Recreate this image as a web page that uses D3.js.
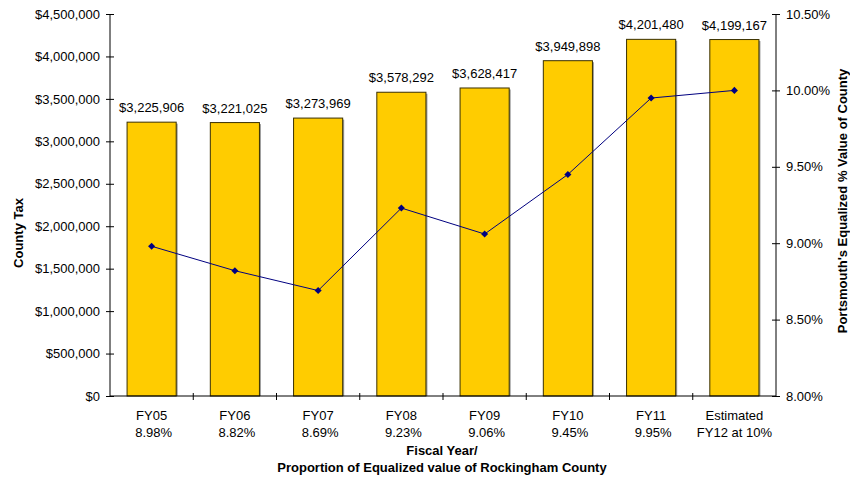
<!DOCTYPE html>
<html>
<head>
<meta charset="utf-8">
<script src="https://cdn.jsdelivr.net/npm/d3@7"></script>
<style>
  body { margin: 0; background: #fff; }
  svg { display: block; font-family: "Liberation Sans", Arial, sans-serif; }
</style>
</head>
<body>
<svg id="chart" width="850" height="479"></svg>
<script>
// County tax paid per fiscal year and Portsmouth's share of county equalized value
const years = ["FY05", "FY06", "FY07", "FY08", "FY09", "FY10", "FY11", "Estimated"];
const subLabels = ["8.98%", "8.82%", "8.69%", "9.23%", "9.06%", "9.45%", "9.95%", "FY12 at 10%"];
const countyTax = [3225906, 3221025, 3273969, 3578292, 3628417, 3949898, 4201480, 4199167];
const sharePct = [8.98, 8.82, 8.69, 9.23, 9.06, 9.45, 9.95, 10.00];
const taxTicks = [0, 500000, 1000000, 1500000, 2000000, 2500000, 3000000, 3500000, 4000000, 4500000];
const pctTicks = [8.0, 8.5, 9.0, 9.5, 10.0, 10.5];

const svg = d3.select("#chart");
const plotL = 110, plotR = 776, plotT = 14, plotB = 396;
const fs = 13;

const x = d3.scaleBand().domain(d3.range(years.length)).range([plotL, plotR]).paddingInner(0.41).paddingOuter(0.205);
const xTick = d3.scaleLinear().domain([0, years.length]).range([plotL, plotR]);
const yTax = d3.scaleLinear().domain([0, 4500000]).range([plotB, plotT]);
const yPct = d3.scaleLinear().domain([8.0, 10.5]).range([plotB, plotT]);

const money = d3.format("$,.0f");

// bars with a thin grey shadow on the right edge
const bars = svg.append("g");
bars.selectAll("rect.shadow").data(countyTax).join("rect")
  .attr("class", "shadow")
  .attr("x", (d, i) => x(i) + 1.5)
  .attr("y", d => yTax(d) + 1.5)
  .attr("width", x.bandwidth())
  .attr("height", d => plotB - yTax(d) - 1.5)
  .attr("fill", "#9a9a9a");
bars.selectAll("rect.bar").data(countyTax).join("rect")
  .attr("class", "bar")
  .attr("x", (d, i) => x(i))
  .attr("y", d => yTax(d))
  .attr("width", x.bandwidth())
  .attr("height", d => plotB - yTax(d))
  .attr("fill", "#FFCC00")
  .attr("stroke", "#3a3000")
  .attr("stroke-width", 1);

// value labels
svg.append("g").selectAll("text").data(countyTax).join("text")
  .attr("x", (d, i) => x(i) + x.bandwidth() / 2)
  .attr("y", d => yTax(d) - 10)
  .attr("text-anchor", "middle")
  .attr("font-size", fs)
  .attr("fill", "#000")
  .text(d => money(d));

// share line with diamond markers
const cx = i => x(i) + x.bandwidth() / 2;
svg.append("path")
  .datum(sharePct)
  .attr("fill", "none")
  .attr("stroke", "#000080")
  .attr("stroke-width", 1)
  .attr("d", d3.line().x((d, i) => cx(i)).y(d => yPct(d)));
svg.append("g").selectAll("path").data(sharePct).join("path")
  .attr("transform", (d, i) => `translate(${cx(i)},${yPct(d)})`)
  .attr("d", d3.symbol(d3.symbolDiamond2, 32))
  .attr("fill", "#000080");

// left axis
const axisL = svg.append("g").attr("transform", `translate(${plotL},0)`)
  .call(d3.axisLeft(yTax).tickValues(taxTicks).tickFormat(money).tickSize(4).tickPadding(6));
axisL.selectAll(".tick line").attr("x1", 4).attr("x2", -4);

// right axis
const axisR = svg.append("g").attr("transform", `translate(${plotR},0)`)
  .call(d3.axisRight(yPct).tickValues(pctTicks).tickFormat(d => d.toFixed(2) + "%").tickSize(4).tickPadding(6));
axisR.selectAll(".tick line").attr("x1", -4).attr("x2", 4);

[axisL, axisR].forEach(a => {
  a.select(".domain").attr("d", `M0,${plotT}V${plotB}`).attr("stroke", "#000");
  a.selectAll(".tick line").attr("stroke", "#000");
  a.selectAll(".tick text").attr("font-size", fs).attr("fill", "#000").attr("font-family", "Liberation Sans, Arial, sans-serif");
});

// bottom axis line with category dividers
svg.append("line").attr("x1", plotL).attr("x2", plotR).attr("y1", plotB).attr("y2", plotB).attr("stroke", "#000");
svg.append("g").selectAll("line").data(d3.range(1, years.length)).join("line")
  .attr("x1", d => xTick(d)).attr("x2", d => xTick(d))
  .attr("y1", plotB - 3).attr("y2", plotB + 4)
  .attr("stroke", "#000");

// category labels (two lines)
const cat = svg.append("g").attr("font-size", fs).attr("text-anchor", "middle").attr("fill", "#000");
cat.selectAll("text.y1").data(years).join("text")
  .attr("class", "y1")
  .attr("x", (d, i) => cx(i)).attr("y", 420)
  .text(d => d);
cat.selectAll("text.y2").data(subLabels).join("text")
  .attr("class", "y2")
  .attr("x", (d, i) => cx(i) + (i < 7 ? 2 : 0)).attr("y", 437)
  .text(d => d);

// axis titles
svg.append("text").attr("x", (plotL + plotR) / 2 - 1).attr("y", 455)
  .attr("text-anchor", "middle").attr("font-size", fs).attr("font-weight", "bold")
  .text("Fiscal Year/");
svg.append("text").attr("x", (plotL + plotR) / 2 - 1).attr("y", 472)
  .attr("text-anchor", "middle").attr("font-size", fs).attr("font-weight", "bold")
  .text("Proportion of Equalized value of Rockingham County");
svg.append("text")
  .attr("transform", `translate(23,233) rotate(-90)`)
  .attr("text-anchor", "middle").attr("font-size", fs).attr("font-weight", "bold")
  .text("County Tax");
svg.append("text")
  .attr("transform", `translate(847,201) rotate(-90)`)
  .attr("text-anchor", "middle").attr("font-size", fs).attr("font-weight", "bold")
  .text("Portsmouth's Equalized % Value of County");
</script>
</body>
</html>
